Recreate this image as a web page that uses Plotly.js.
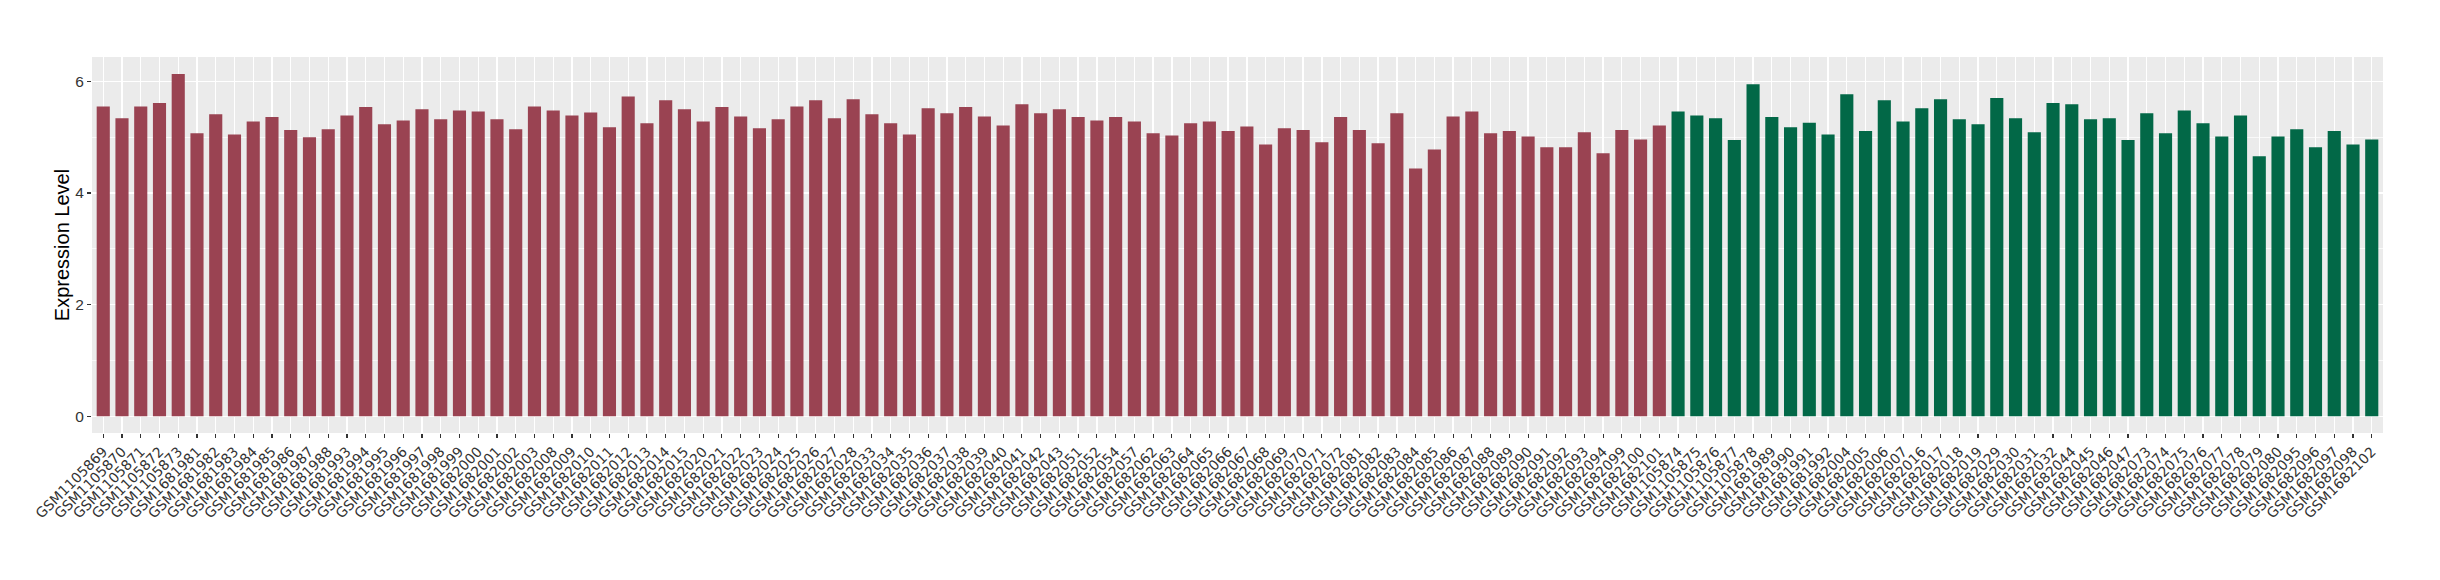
<!DOCTYPE html>
<html>
<head>
<meta charset="utf-8">
<script src="https://cdn.plot.ly/plotly-3.0.1.min.js"></script>
<style>
html, body { margin: 0; padding: 0; background: #ffffff; }
#chart { width: 2440px; height: 580px; }
</style>
</head>
<body>
<div id="chart"></div>
<script>
const groupASamples = [
  "GSM1105869","GSM1105870","GSM1105871","GSM1105872","GSM1105873","GSM1681981","GSM1681982","GSM1681983","GSM1681984","GSM1681985",
  "GSM1681986","GSM1681987","GSM1681988","GSM1681993","GSM1681994","GSM1681995","GSM1681996","GSM1681997","GSM1681998","GSM1681999",
  "GSM1682000","GSM1682001","GSM1682002","GSM1682003","GSM1682008","GSM1682009","GSM1682010","GSM1682011",
  "GSM1682012","GSM1682013","GSM1682014","GSM1682015","GSM1682020","GSM1682021","GSM1682022","GSM1682023","GSM1682024","GSM1682025",
  "GSM1682026","GSM1682027","GSM1682028","GSM1682033","GSM1682034","GSM1682035","GSM1682036","GSM1682037","GSM1682038","GSM1682039",
  "GSM1682040","GSM1682041","GSM1682042","GSM1682043","GSM1682051","GSM1682052","GSM1682054","GSM1682057","GSM1682062","GSM1682063",
  "GSM1682064","GSM1682065",
  "GSM1682066","GSM1682067","GSM1682068","GSM1682069","GSM1682070","GSM1682071","GSM1682072","GSM1682081","GSM1682082","GSM1682083",
  "GSM1682084","GSM1682085","GSM1682086","GSM1682087","GSM1682088","GSM1682089","GSM1682090","GSM1682091","GSM1682092","GSM1682093",
  "GSM1682094","GSM1682099","GSM1682100","GSM1682101"
];
const groupAValues = [
  5.55,5.34,5.55,5.61,6.13,5.07,5.41,5.05,5.28,5.36,
  5.13,5.00,5.14,5.39,5.54,5.23,5.30,5.50,5.32,5.48,
  5.46,5.32,5.14,5.55,5.48,5.39,5.44,5.18,
  5.73,5.25,5.66,5.50,5.28,5.54,5.37,5.16,5.32,5.55,
  5.66,5.34,5.68,5.41,5.25,5.05,5.52,5.43,5.54,5.37,
  5.21,5.59,5.43,5.50,5.36,5.30,5.36,5.28,5.07,5.03,
  5.25,5.28,
  5.11,5.19,4.87,5.16,5.13,4.91,5.36,5.13,4.89,5.43,
  4.44,4.78,5.37,5.46,5.07,5.11,5.01,4.82,4.82,5.09,
  4.71,5.13,4.96,5.21
];
const groupBSamples = [
  "GSM1105874","GSM1105875","GSM1105876","GSM1105877","GSM1105878","GSM1681989","GSM1681990","GSM1681991","GSM1681992","GSM1682004",
  "GSM1682005","GSM1682006","GSM1682007","GSM1682016","GSM1682017","GSM1682018","GSM1682019","GSM1682029","GSM1682030","GSM1682031",
  "GSM1682032","GSM1682044","GSM1682045","GSM1682046","GSM1682047","GSM1682073","GSM1682074","GSM1682075","GSM1682076","GSM1682077",
  "GSM1682078","GSM1682079","GSM1682080","GSM1682095","GSM1682096","GSM1682097","GSM1682098","GSM1682102"
];
const groupBValues = [
  5.46,5.39,5.34,4.95,5.95,5.36,5.18,5.26,5.05,5.77,
  5.11,5.66,5.28,5.52,5.68,5.32,5.23,5.70,5.34,5.09,
  5.61,5.59,5.32,5.34,4.95,5.43,5.07,5.48,5.25,5.01,
  5.39,4.66,5.01,5.14,4.82,5.11,4.87,4.96
];
const yTickValues = [0, 2, 4, 6];
const yTitle = "Expression Level";

const colorA = "#9A4352";
const colorB = "#026847";
const allSamples = groupASamples.concat(groupBSamples);

const traces = [
  { type: "bar", x: groupASamples, y: groupAValues, marker: { color: colorA }, width: 0.7, hoverinfo: "x+y" },
  { type: "bar", x: groupBSamples, y: groupBValues, marker: { color: colorB }, width: 0.7, hoverinfo: "x+y" }
];

const layout = {
  width: 2440, height: 580,
  margin: { l: 92, r: 57, t: 57, b: 147 },
  paper_bgcolor: "#FFFFFF",
  plot_bgcolor: "#EBEBEB",
  showlegend: false,
  barmode: "overlay",
  font: { family: "Liberation Sans, Arial, sans-serif" },
  xaxis: {
    type: "category",
    categoryorder: "array",
    categoryarray: allSamples,
    range: [-0.6, allSamples.length - 0.4],
    tickmode: "array",
    tickvals: allSamples,
    ticktext: allSamples,
    showgrid: true, gridcolor: "#FFFFFF", gridwidth: 1.3,
    zeroline: false, showline: false,
    ticks: "outside", ticklen: 4, tickwidth: 1.1, tickcolor: "#333333",
    tickangle: -45,
    tickfont: { family: "DejaVu Sans, sans-serif", size: 14, color: "#333333" },
    automargin: false
  },
  yaxis: {
    range: [-0.298, 6.436],
    tickmode: "array",
    tickvals: yTickValues,
    ticktext: yTickValues.map(String),
    showgrid: true, gridcolor: "#FFFFFF", gridwidth: 1.5,
    minor: { tickmode: "array", tickvals: [1, 3, 5], showgrid: true, gridcolor: "#FFFFFF", gridwidth: 0.7 },
    zeroline: false, showline: false,
    ticks: "outside", ticklen: 4, tickwidth: 1.1, tickcolor: "#333333",
    tickfont: { family: "Liberation Sans, Arial, sans-serif", size: 15.5, color: "#333333" },
    title: { text: yTitle, font: { family: "Liberation Sans, Arial, sans-serif", size: 20, color: "#000000" }, standoff: 0 },
    automargin: true
  }
};

Plotly.newPlot("chart", traces, layout, { displayModeBar: false, staticPlot: true });
</script>
</body>
</html>
